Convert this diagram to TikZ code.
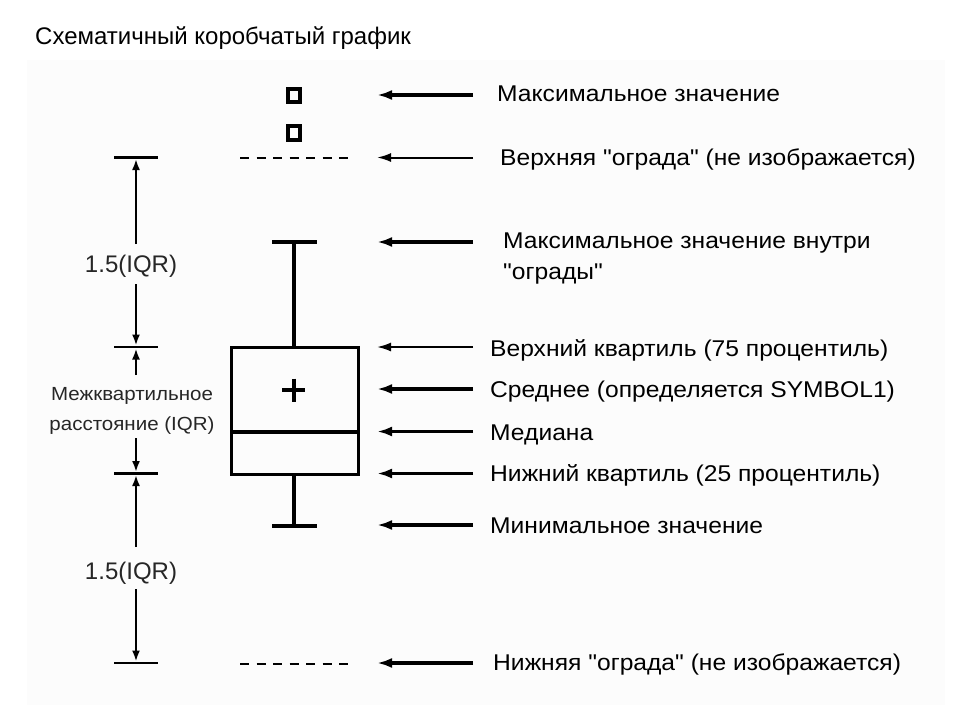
\documentclass[tikz,border=0pt]{standalone}
\usepackage{fontspec}
\setmainfont{Liberation Sans}
\newfontfamily\lblfont[FakeStretch=1.08]{Liberation Sans}
\usetikzlibrary{arrows.meta}
\begin{document}
\begin{tikzpicture}[x=1pt,y=-1pt,
  lbl/.style={font=\lblfont\fontsize{22.8}{26}\selectfont, anchor=base west, inner sep=0pt},
  dimlbl/.style={font=\fontsize{24}{28}\selectfont, text=black!85, anchor=base, inner sep=0pt},
  iqrlbl/.style={font=\lblfont\fontsize{19}{22}\selectfont, text=black!85, anchor=base, inner sep=0pt},
  thickarr/.style={line width=3.5pt, -{Latex[length=15pt,width=10pt]}},
  thinarr/.style={line width=2pt, -{Latex[length=14pt,width=9pt]}},
  dimarr/.style={line width=2pt, -{Latex[length=11pt,width=8pt]}},
  tickline/.style={line width=2.5pt},
  fence/.style={line width=2pt, dash pattern=on 9pt off 7.5pt},
  boxline/.style={line width=3pt},
  heavy/.style={line width=4pt},
  outlier/.style={line width=3.5pt},
]
\useasboundingbox (0,0) rectangle (960,720);
\fill[black!1] (27,60) rectangle (945,705);

% title
\node[anchor=base west, inner sep=0pt, font=\fontsize{24}{28}\selectfont] (title) at (35,44) {Схематичный коробчатый график};

% box plot
\draw[boxline] (231,347) rectangle (358,474);
\draw[heavy] (231,431.5) -- (358,431.5);
\draw[heavy] (294,347) -- (294,242);
\draw[heavy] (272,242) -- (317,242);
\draw[heavy] (294,474) -- (294,526);
\draw[heavy] (272,526) -- (317,526);
\draw[heavy] (282,390) -- (305,390) (293.5,378.5) -- (293.5,401.5);
\draw[outlier] (288,89) rectangle (300,102);
\draw[outlier] (288,126) rectangle (300,140);
\draw[fence] (240,157.5) -- (348,157.5);
\draw[fence] (240,664) -- (348,664);

% left dimension ticks
\foreach \y in {157.5,347,473.5,663} \draw[tickline] (114,\y) -- (158,\y);

% left labels
\node[dimlbl] (iqr1) at (131,272) {1.5(IQR)};
\node[dimlbl] (iqr2) at (131,579) {1.5(IQR)};
\node[iqrlbl] (iqrA) at (132,400) {Межквартильное};
\node[iqrlbl] (iqrB) at (132,430) {расстояние (IQR)};

% dimension arrows
\coordinate (d1s) at (136,244); \coordinate (d1e) at (136,159);
\coordinate (d2s) at (136,284); \coordinate (d2e) at (136,345.5);
\coordinate (d3s) at (136,375); \coordinate (d3e) at (136,348.5);
\coordinate (d4s) at (136,438); \coordinate (d4e) at (136,472);
\coordinate (d5s) at (136,547); \coordinate (d5e) at (136,475);
\coordinate (d6s) at (136,589); \coordinate (d6e) at (136,661.5);
\draw[dimarr] (d1s) -- (d1e);
\draw[dimarr] (d2s) -- (d2e);
\draw[dimarr] (d3s) -- (d3e);
\draw[dimarr] (d4s) -- (d4e);
\draw[dimarr] (d5s) -- (d5e);
\draw[dimarr] (d6s) -- (d6e);

% right labels
\node[lbl] (lmax) at (497,101) {Максимальное значение};
\node[lbl] (lufence) at (500,165) {Верхняя "ограда" (не изображается)};
\node[lbl] (lmaxin) at (503,248) {Максимальное значение внутри};
\node[lbl] (lmaxin2) at (503,279) {"ограды"};
\node[lbl] (luq) at (490,356) {Верхний квартиль (75 процентиль)};
\node[lbl] (lmean) at (490,397) {Среднее (определяется SYMBOL1)};
\node[lbl] (lmed) at (490,440) {Медиана};
\node[lbl] (llq) at (490,481) {Нижний квартиль (25 процентиль)};
\node[lbl] (lmin) at (490,533) {Минимальное значение};
\node[lbl] (llfence) at (493,670) {Нижняя "ограда" (не изображается)};

% right arrows
\foreach \n/\y in {amax/95,aufence/157.5,amaxin/242,auq/347,amean/389,amed/431.5,alq/473.5,amin/525,alfence/663}{
  \coordinate (\n s) at (473,\y);
  \coordinate (\n e) at (377,\y);
}
\draw[thickarr] (amaxs) -- (amaxe);
\draw[thinarr] (aufences) -- (aufencee);
\draw[thickarr] (amaxins) -- (amaxine);
\draw[thinarr] (auqs) -- (auqe);
\draw[thickarr] (ameans) -- (ameane);
\draw[thickarr] (ameds) -- (amede);
\draw[thickarr] (alqs) -- (alqe);
\draw[thickarr] (amins) -- (amine);
\draw[thickarr] (alfences) -- (alfencee);
\end{tikzpicture}
\end{document}
